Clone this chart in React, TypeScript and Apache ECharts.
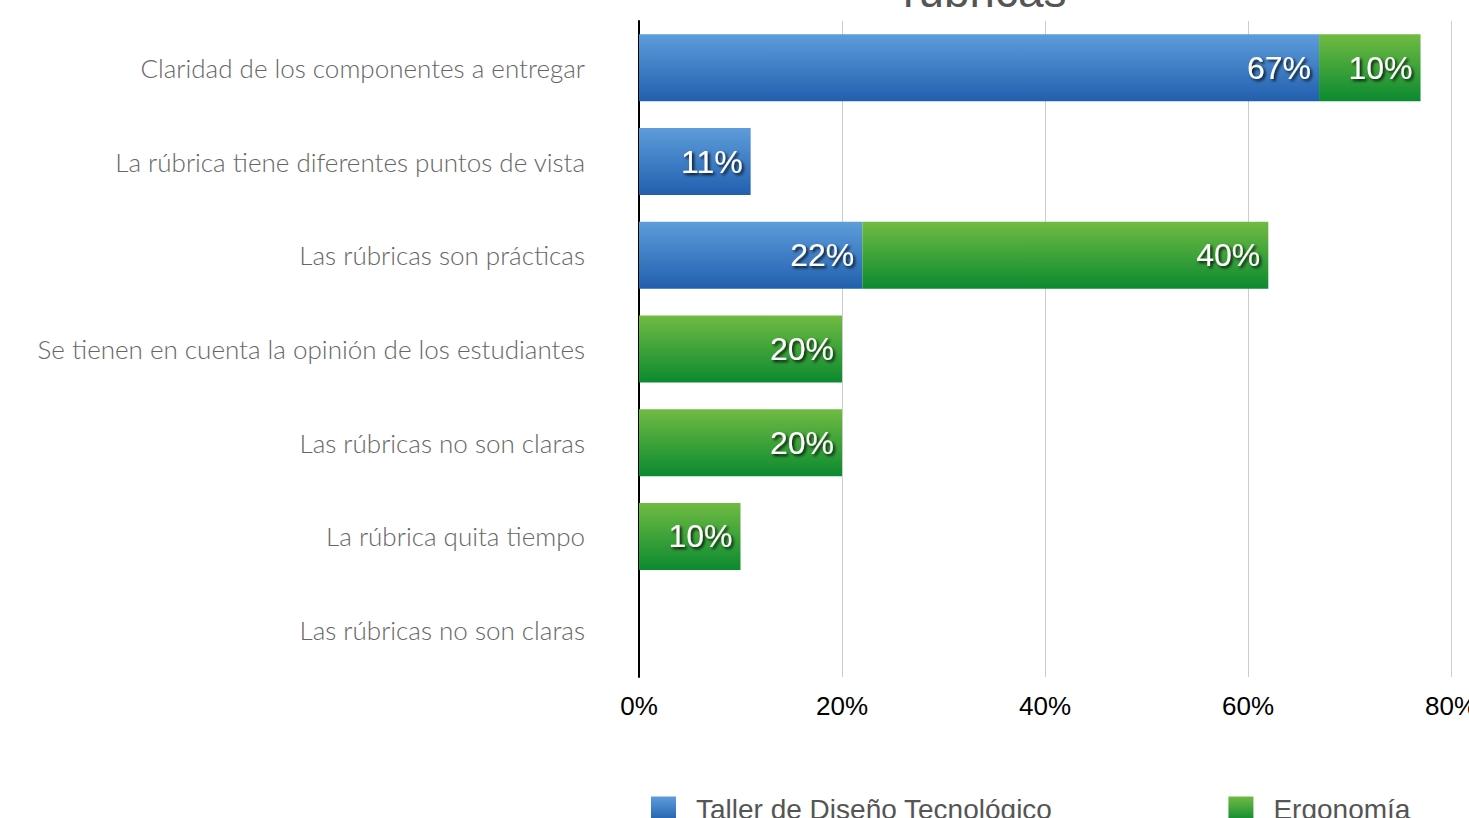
import React, { useEffect, useRef } from "react";
import * as echarts from "echarts";

const categories = [
  "Claridad de los componentes a entregar",
  "La rúbrica tiene diferentes puntos de vista",
  "Las rúbricas son prácticas",
  "Se tienen en cuenta la opinión de los estudiantes",
  "Las rúbricas no son claras",
  "La rúbrica quita tiempo",
  "Las rúbricas no son claras",
];
const tallerValues = [67, 11, 22, 0, 0, 0, 0];
const ergonomiaValues = [10, 0, 40, 20, 20, 10, 0];
const seriesNames = ["Taller de Diseño Tecnológico", "Ergonomía"];
const titleText = "rúbricas";

export default function App() {
  const ref = useRef<HTMLDivElement>(null);
  useEffect(() => {
    if (!ref.current) return;
    const chart = echarts.init(ref.current, undefined, { renderer: "svg" });
    const blue = new echarts.graphic.LinearGradient(0, 0, 0, 1, [
      { offset: 0, color: "#5d9ddb" },
      { offset: 1, color: "#215fae" },
    ]);
    const green = new echarts.graphic.LinearGradient(0, 0, 0, 1, [
      { offset: 0, color: "#70bb42" },
      { offset: 1, color: "#0b8a30" },
    ]);
    const label = {
      show: true,
      position: "insideRight",
      distance: 8,
      color: "#ffffff",
      fontFamily: "Liberation Sans, Arial, sans-serif",
      fontSize: 32,
      textShadowColor: "rgba(0,0,0,0.85)",
      textShadowBlur: 3,
      textShadowOffsetX: 2,
      textShadowOffsetY: 2,
      formatter: (p: any) => (p.value ? p.value + "%" : ""),
    };
    chart.setOption({
      animation: false,
      backgroundColor: "#ffffff",
      graphic: [
        {
          type: "text",
          left: 903,
          top: -32,
          style: {
            text: titleText,
            fontSize: 46,
            fill: "#555555",
            fontFamily: "Liberation Sans, Arial, sans-serif",
          },
        },
      ],
      legend: {
        left: 651,
        top: 795,
        width: 818,
        padding: 0,
        itemWidth: 25,
        itemHeight: 25,
        itemGap: 176,
        icon: "rect",
        textStyle: {
          fontSize: 28,
          color: "#555555",
          fontFamily: "Liberation Sans, Arial, sans-serif",
          padding: [0, 0, 0, 15],
        },
        data: seriesNames,
      },
      grid: {
        left: 639,
        right: 18,
        top: 21,
        bottom: 141,
        containLabel: false,
        outerBoundsMode: "none",
      },
      xAxis: {
        type: "value",
        min: 0,
        max: 80,
        interval: 20,
        axisLine: { show: false },
        axisTick: { show: false },
        splitLine: { lineStyle: { color: "#cccccc", width: 1 } },
        axisLabel: {
          formatter: "{value}%",
          color: "#000000",
          fontSize: 26,
          margin: 16,
          fontFamily: "Liberation Sans, Arial, sans-serif",
        },
      },
      yAxis: {
        type: "category",
        inverse: true,
        data: categories,
        axisLine: { show: true, lineStyle: { color: "#000000", width: 2 } },
        axisTick: { show: false },
        axisLabel: {
          color: "#666666",
          fontSize: 26,
          fontWeight: 300,
          margin: 54,
          fontFamily: "Lato, sans-serif",
        },
      },
      series: [
        {
          name: seriesNames[0],
          type: "bar",
          stack: "total",
          data: tallerValues,
          barWidth: 67,
          itemStyle: { color: blue },
          label,
        },
        {
          name: seriesNames[1],
          type: "bar",
          stack: "total",
          data: ergonomiaValues,
          barWidth: 67,
          itemStyle: { color: green },
          label,
        },
      ],
    });
    return () => chart.dispose();
  }, []);
  return <div ref={ref} style={{ width: 1469, height: 818, position: "absolute", left: 0, top: 0 }} />;
}
